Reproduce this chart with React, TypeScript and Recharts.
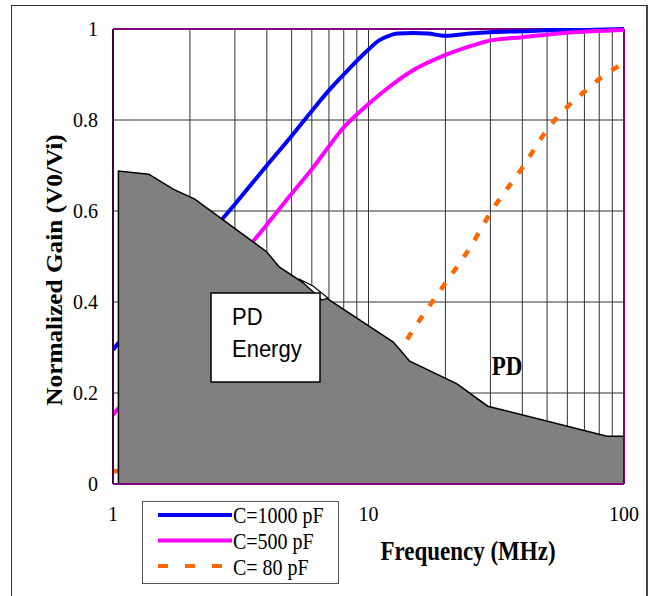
import React from "react";
import {Area, CartesianGrid, ComposedChart, Legend, Line, ReferenceLine, XAxis, YAxis} from "recharts";

// frequency grid (log decades) and gain ticks
const freqTicks = [1, 2, 3, 4, 5, 6, 7, 8, 9, 10, 20, 30, 40, 50, 60, 70, 80, 90, 100];
const freqLabels = [1, 10, 100];
const gainTicks = [0, 0.2, 0.4, 0.6, 0.8, 1];

// C=1000 pF
const c1000Freq = [1, 2, 3, 4, 5, 6, 7, 8, 9, 10, 11, 12, 13, 15, 17, 20, 25, 30, 40, 50, 70, 100];
const c1000Gain = [0.295, 0.5, 0.615, 0.7, 0.765, 0.82, 0.865, 0.9, 0.93, 0.955, 0.975, 0.985, 0.99, 0.991, 0.99, 0.985, 0.99, 0.993, 0.995, 0.997, 0.998, 1.0];

// C=500 pF
const c500Freq = [1, 2, 3, 4, 5, 6, 7, 8, 9, 10, 12, 15, 20, 27, 30, 40, 60, 100];
const c500Gain = [0.152, 0.36, 0.485, 0.57, 0.638, 0.692, 0.742, 0.784, 0.812, 0.835, 0.872, 0.91, 0.943, 0.968, 0.975, 0.982, 0.992, 0.998];

// C=80 pF
const c80Freq = [1, 2, 3, 5, 7, 10, 12, 13.5, 15, 19.5, 25, 30, 40, 51, 55, 60, 70, 80, 90, 100];
const c80Gain = [0.028, 0.04, 0.055, 0.09, 0.13, 0.205, 0.265, 0.3, 0.34, 0.433, 0.52, 0.596, 0.695, 0.785, 0.807, 0.829, 0.862, 0.89, 0.91, 0.925];

// PD energy envelope
const pdFreq = [1.05, 1.05, 1.38, 1.72, 2.09, 4.0, 4.47, 12.5, 14.5, 22.2, 29.3, 85.8, 100, 100];
const pdLevel = [0, 0.688, 0.681, 0.648, 0.626, 0.51, 0.477, 0.312, 0.27, 0.22, 0.171, 0.105, 0.105, 0];

const series = [
  {name: "C=1000 pF", color: "#0000FF", dash: undefined, freq: c1000Freq, gain: c1000Gain},
  {name: "C=500 pF", color: "#FF00FF", dash: undefined, freq: c500Freq, gain: c500Gain},
  {name: "C= 80 pF", color: "#FF6600", dash: "8 12", freq: c80Freq, gain: c80Gain},
];

const toPoints = (xs: number[], ys: number[]) => xs.map((f, i) => ({f, v: ys[i]}));

const serif = "'Liberation Serif', 'Times New Roman', serif";
const sans = "'Liberation Sans', Arial, sans-serif";

const FreqTick = ({x, y, payload}: any) => {
  if (!freqLabels.includes(payload.value)) return <g />;
  return (
    <text x={x} y={y + 37} textAnchor="middle" fontFamily={serif} fontSize={20} fill="#000">
      {payload.value}
    </text>
  );
};

const GainTick = ({x, y, payload}: any) => (
  <text x={x - 15} y={y + 7} textAnchor="end" fontFamily={serif} fontSize={20} fill="#000">
    {payload.value}
  </text>
);

const LegendBox = () => (
  <div style={{width: 197, height: 83, border: "1.5px solid #555", background: "#fff", boxSizing: "border-box"}}>
    <svg width={195} height={81}>
      {series.map((s, i) => (
        <g key={s.name}>
          <line x1={15} x2={89} y1={13 + i * 25.5} y2={13 + i * 25.5} stroke={s.color} strokeWidth={4}
                strokeDasharray={s.dash ? "10 17" : undefined} />
          <text transform={`translate(90,${21 + i * 26}) scale(1,1.12)`} fontFamily={serif} fontSize={20} fill="#000">
            {s.name}
          </text>
        </g>
      ))}
    </svg>
  </div>
);

export default function App() {
  return (
    <div style={{position: "absolute", left: 0, top: 0, width: 652, height: 596, overflow: "hidden", background: "#fff"}}>
      <div style={{position: "absolute", left: 11, top: 5, width: 634, height: 640, borderTop: "1.5px solid #333",
        borderLeft: "1.5px solid #333", borderRight: "2px solid #444"}} />
      <ComposedChart width={652} height={596} margin={{top: 29, right: 28, bottom: 0, left: 0}}
                     style={{position: "absolute", left: 0, top: 0}}>
        <CartesianGrid stroke="#333" strokeWidth={1} />
        <XAxis dataKey="f" type="number" scale="log" domain={[1, 100]} ticks={freqTicks} interval={0}
               allowDataOverflow height={112} tickSize={0} tickMargin={0} tickLine={false}
               axisLine={{stroke: "#800080", strokeWidth: 2}} tick={<FreqTick />} />
        <YAxis type="number" domain={[0, 1]} ticks={gainTicks} width={113} tickSize={0} tickMargin={0}
               tickLine={false} axisLine={{stroke: "#400040", strokeWidth: 2}} tick={<GainTick />} />
        <ReferenceLine y={1} stroke="#800080" strokeWidth={2} zIndex={350} />
        <ReferenceLine x={100} stroke="#800080" strokeWidth={2} zIndex={350} />
        {series.map((s) => (
          <Line key={s.name} data={toPoints(s.freq, s.gain)} dataKey="v" name={s.name} type="monotone"
                stroke={s.color} strokeWidth={s.dash ? 4.5 : 4} strokeDasharray={s.dash} dot={false}
                activeDot={false} isAnimationActive={false} />
        ))}
        <Area data={toPoints(pdFreq, pdLevel)} dataKey="v" type="linear" fill="#808080" fillOpacity={1}
              stroke="#000" strokeWidth={1.5} legendType="none" isAnimationActive={false} zIndex={450} />
        <Legend layout="horizontal" verticalAlign="middle" align="center" content={() => <LegendBox />}
                wrapperStyle={{left: 142, top: 501, width: 197, height: 83}} />
      </ComposedChart>
      <svg width={652} height={596} style={{position: "absolute", left: 0, top: 0, pointerEvents: "none"}}>
        <polygon points="299,279 322,300 328,298 313,286" fill="#fff" stroke="#000" strokeWidth={1.2} />
        <rect x={211} y={293} width={109} height={89} fill="#fff" stroke="#000" strokeWidth={1.5} />
        <text transform="translate(232,325) scale(1,1.1)" fontFamily={sans} fontSize={22} fill="#000">PD</text>
        <text transform="translate(232,357) scale(1,1.1)" fontFamily={sans} fontSize={22} fill="#000">Energy</text>
        <text transform="translate(507,375) scale(1,1.15)" textAnchor="middle" fontFamily={serif} fontSize={23}
              fontWeight="bold" fill="#000">PD</text>
        <text transform="translate(468,560) scale(1,1.15)" textAnchor="middle" fontFamily={serif} fontSize={23}
              fontWeight="bold" fill="#000">Frequency (MHz)</text>
        <text transform="translate(62,270) rotate(-90) scale(1.1,1)" textAnchor="middle" fontFamily={serif}
              fontSize={23} fontWeight="bold" fill="#000">Normalized Gain (V0/Vi)</text>
      </svg>
    </div>
  );
}
